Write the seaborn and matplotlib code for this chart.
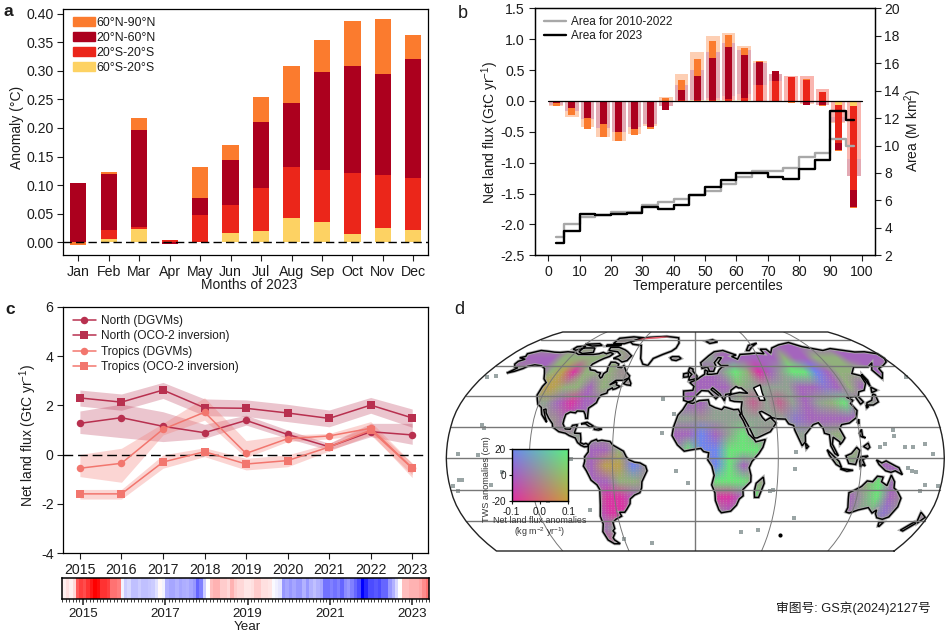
import numpy as np
import matplotlib
matplotlib.use("Agg")
import matplotlib.pyplot as plt
from matplotlib.patches import Patch, PathPatch, Polygon
from matplotlib.path import Path
import seaborn as sns

W, H = 952, 635
INK = "#1c1c1c"
sns.set_theme(style="ticks")
plt.rcParams["font.family"] = ["Liberation Sans", "Noto Sans CJK SC", "DejaVu Sans"]
plt.rcParams.update({
    "axes.unicode_minus": False, "mathtext.fontset": "custom", "mathtext.rm": "Liberation Sans",
    "mathtext.default": "regular", "text.color": INK, "axes.labelcolor": INK,
    "xtick.color": INK, "ytick.color": INK, "axes.edgecolor": "black", "axes.linewidth": 0.9,
})

ORANGE, DARK, RED, YELLOW = "#FB7B2E", "#AC001E", "#EB261A", "#FDD263"
PALE_ORANGE, PALE_DARK, PALE_RED, PALE_YELLOW = "#FDCFB4", "#E3A9B3", "#F9B5AF", "#FDEDC2"

# ── Panel a: cumulative tops of the stacks ────────────────────────────────────
months = ["Jan", "Feb", "Mar", "Apr", "May", "Jun", "Jul", "Aug", "Sep", "Oct", "Nov", "Dec"]
a_yellow = [0, .006, .023, 0, 0, .016, .020, .043, .036, .015, .025, .022]
a_red = [0, .022, .027, .004, .048, .065, .095, .132, .127, .121, .118, .113]
a_dark = [.104, .120, .197, -.003, .078, .144, .211, .244, .298, .309, .295, .321]
a_orange = [-.004, .123, .218, 0, .132, .170, .254, .309, .354, .387, .391, .363]

# ── Panel b: bins, bars (cumulative edges) and area steps ─────────────────────
bins = [2.5, 7.5, 12.5, 17.5, 22.5, 27.5, 32.5, 37.5, 42.5, 47.5,
        52.5, 57.5, 62.5, 67.5, 72.5, 77.5, 82.5, 87.5, 92.5, 97.5]
in_pos_orange = [0, 0, 0, 0, 0, 0, 0, .055, .345, .685, .975, 1.06, .86, .645, .485, .395, .355, .15, 0, 0]
in_pos_dark = [0, 0, 0, 0, 0, 0, 0, 0, .185, .41, .69, .88, .75, .635, .485, 0, 0, 0, 0, 0]
in_pos_red = [0, 0, 0, 0, 0, 0, 0, 0, .01, .015, .02, .03, .055, .25, .33, .39, .345, .14, 0, 0]
in_neg_orange = [-.085, -.23, -.46, -.59, -.65, -.555, -.46, -.155, 0, 0, 0, 0, 0, -.015, -.015, -.03, -.07, -.085, -.81, -1.735]
in_neg_dark = [-.03, -.11, -.27, -.38, -.50, -.45, -.43, -.14, 0, 0, 0, 0, 0, 0, 0, -.025, -.06, -.07, -.80, -1.725]
in_neg_red = [0, 0, 0, 0, 0, 0, 0, 0, 0, 0, 0, 0, 0, 0, 0, 0, 0, 0, -.68, -1.45]
in_neg_yellow = [0, 0, 0, 0, 0, 0, 0, 0, 0, 0, 0, 0, 0, 0, 0, 0, 0, 0, -.065, -.09]
out_pos_orange = [0, 0, 0, 0, 0, 0, 0, .07, .44, .80, 1.05, 1.10, .89, .645, .44, .41, .41, .20, 0, 0]
out_pos_dark = [0, 0, 0, 0, 0, 0, 0, 0, .26, .50, .79, .93, .83, .62, .44, 0, 0, 0, 0, 0]
out_pos_red = [0, 0, 0, 0, 0, 0, 0, 0, .01, .02, .05, .08, .11, .25, .33, .40, .40, .19, 0, 0]
out_pos_yellow = [0, 0, 0, 0, 0, 0, 0, 0, 0, .01, .02, .02, .02, 0, 0, 0, 0, 0, 0, 0]
out_neg_orange = [-.09, -.265, -.43, -.59, -.65, -.53, -.40, -.09, 0, 0, 0, 0, 0, -.01, -.01, -.02, -.05, -.06, -.35, -1.22]
out_neg_dark = [-.06, -.17, -.29, -.44, -.51, -.43, -.37, -.09, 0, 0, 0, 0, 0, 0, 0, -.02, -.04, -.06, -.345, -1.22]
out_neg_red = [0, 0, 0, 0, 0, 0, 0, 0, 0, 0, 0, 0, 0, 0, 0, 0, 0, 0, -.26, -.94]
out_neg_yellow = [0, 0, 0, 0, 0, 0, 0, 0, 0, 0, 0, 0, 0, 0, 0, 0, 0, 0, -.02, -.02]
area_2023 = [2.9, 3.8, 5.03, 4.95, 5.03, 5.1, 5.55, 5.37, 5.7, 6.4, 7.0, 7.5, 8.0, 8.0, 7.73, 7.55, 8.3, 8.97, 12.55, 11.85]
area_hist = [3.33, 4.3, 4.77, 4.95, 5.18, 5.18, 5.66, 5.9, 6.13, 6.4, 6.7, 7.2, 7.73, 8.17, 8.17, 8.38, 9.18, 9.48, 10.45, 9.96]

# ── Panel c ───────────────────────────────────────────────────────────────────
years = [2015, 2016, 2017, 2018, 2019, 2020, 2021, 2022, 2023]
north_dgvm = [1.27, 1.5, 1.15, .89, 1.39, .82, .32, .93, .80]
north_dgvm_hi = [1.77, 2.05, 1.74, 1.23, 1.6, 1.0, .46, 1.27, 1.27]
north_dgvm_lo = [.86, .69, .53, .66, 1.2, .66, .19, .73, .42]
north_oco = [2.3, 2.13, 2.62, 1.9, 1.88, 1.69, 1.47, 2.01, 1.49]
north_oco_hi = [2.62, 2.46, 2.93, 2.26, 2.22, 2.04, 1.81, 2.32, 1.85]
north_oco_lo = [1.97, 1.8, 2.28, 1.58, 1.55, 1.34, 1.13, 1.68, 1.11]
trop_dgvm = [-.55, -.35, 1.03, 1.72, .05, .65, .76, 1.07, -.54]
trop_dgvm_hi = [.01, .26, 1.27, 2.31, .57, .8, .86, 1.34, -.35]
trop_dgvm_lo = [-.89, -1.12, .8, 1.4, -.12, .53, .64, .86, -.93]
trop_oco = [-1.59, -1.59, -.3, .12, -.38, -.24, .31, 1.0, -.55]
trop_oco_hi = [-1.41, -1.41, -.01, .28, -.15, -.01, .46, 1.18, -.35]
trop_oco_lo = [-1.8, -1.8, -.55, -.08, -.62, -.49, .15, .8, -.82]

# monthly index behind the colour strip, mid 2014 to spring 2023
strip_values = [
    .06, .12, .06, .15, .65, .75, .7, .8, .9, 1.0, .95, .8, .8, .75, .55, .55, .5, -.05,
    -.2, -.15, -.25, -.25, -.2, -.25, -.25, -.22, -.2, -.12, .03, -.05,
    -.3, -.35, -.35, -.3, -.35, -.32, -.3, -.35, -.4, -.6, -.5, -.2, 0,
    .25, .3, .3, .2, .2, .15, .3, .2, .15, .15,
    .1, .1, .12, .2, .2, .12, .12, .1, -.02, -.06, -.1,
    -.4, -.35, -.4, -.35, -.4, -.4, -.3, -.4, -.3, -.25, -.3, -.35,
    -.55, -.55, -.5, -.55, -.5, -.6, -.45, -.4, -.5, -.6, -.7, -1.0, -.85,
    -.7, -.7, -.65, -.7, -.6, -.6, -.4, -.3, -.15, 0, .25, .25, .3, .3, .3, .35, .45, .55]
strip_ticks = [6, 30, 54, 78, 102]
strip_labels = ["2015", "2017", "2019", "2021", "2023"]

# ── Panel d: Robinson table, coastlines (lon, lat) and anomaly classes ────────
rob_lat = [0, 5, 10, 15, 20, 25, 30, 35, 40, 45, 50, 55, 60, 65, 70, 75, 80, 85, 90]
rob_len = [1, .9986, .9954, .99, .9822, .973, .96, .9427, .9216, .8962, .8679, .835, .7986, .7597, .7186, .6732, .6213, .5722, .5322]
rob_y = [0, .062, .124, .186, .248, .310, .372, .434, .4958, .5571, .6176, .6769, .7346, .7903, .8435, .8936, .9394, .9761, 1]

n_america = [(-168, 65.5), (-164, 66.5), (-166, 68.5), (-157, 71), (-150, 70.5), (-141, 69.7), (-135, 69.5), (-128, 70), (-120, 69.5), (-115, 68), (-108, 68), (-100, 68), (-95, 68.5), (-92, 69.5), (-88, 68.5), (-85, 69.5), (-81, 68.5), (-83, 66.5), (-87, 65), (-90, 63.5), (-94, 61), (-94.5, 58.8), (-92.5, 57), (-88, 56.5), (-85, 55.3), (-82, 55), (-82, 53), (-80, 51.5), (-79, 52), (-79, 54.5), (-77, 56), (-78, 58.5), (-78, 60.5), (-78, 62.4), (-74, 62.3), (-70, 61), (-69.5, 58.8), (-66, 58.5), (-64.5, 60), (-62, 57.5), (-60, 55.5), (-56, 53), (-56, 51.5), (-60, 50), (-66, 50), (-70, 47), (-65, 49), (-64.5, 47), (-61, 46), (-64, 44.5), (-66, 44), (-67, 45), (-70, 43.5), (-70, 41.7), (-74, 40.5), (-75.5, 38), (-76, 35.5), (-78, 34), (-81, 32), (-80.5, 28), (-80.2, 25.5), (-81.5, 25.5), (-82.5, 28), (-84, 30), (-89, 30.2), (-90, 29), (-94, 29.5), (-97, 28), (-97.5, 25), (-97.8, 22), (-95.5, 18.7), (-92, 18.5), (-90.5, 21), (-87, 21.5), (-88, 18), (-88.5, 16), (-84, 15.8), (-83.3, 12), (-83.5, 10), (-81, 9), (-79.5, 9.5), (-77.5, 8.7), (-78, 7.5), (-80.5, 7.3), (-83, 8.3), (-85.5, 10), (-87.5, 13), (-92, 14.5), (-95, 16), (-100, 17), (-105, 20), (-105.5, 22), (-109, 25.5), (-112, 29), (-113, 31.5), (-114.5, 31), (-112, 26.5), (-110, 23), (-112, 25), (-115, 28), (-117, 32.5), (-120.5, 34.5), (-122.5, 37.5), (-124.3, 40.3), (-124, 46), (-123, 48.5), (-127, 51), (-130, 54.5), (-134, 58), (-139, 59.8), (-146, 60.5), (-151, 59.5), (-153, 58), (-158, 56), (-163, 54.8), (-158.5, 58.5), (-162, 59), (-165, 61), (-165, 63), (-161, 64.5)]
s_america = [(-77.5, 8.7), (-75.5, 10.8), (-72, 12), (-71, 11), (-68, 11.5), (-62, 10.7), (-60, 8.5), (-55, 6), (-52, 4.5), (-50, 1), (-48, -1), (-44, -2.5), (-40, -3), (-36, -5), (-35, -8), (-37, -11.5), (-39, -15), (-39.5, -19), (-41, -22), (-45, -23.5), (-48.5, -26), (-49, -29), (-52, -32.5), (-54, -34.5), (-58, -34.5), (-57, -37), (-62, -39), (-65, -41), (-65, -45), (-67, -46.5), (-66, -48), (-69, -51), (-68.5, -52.5), (-65, -55), (-70, -55), (-74, -52.5), (-75.5, -47), (-73, -42), (-73.5, -37), (-71.5, -30), (-70.3, -20), (-72, -17), (-76, -14), (-79, -8), (-81, -5), (-80, -2), (-80, 1), (-77.5, 4), (-77.5, 7)]
africa = [(-6, 35.8), (-2, 35), (3, 36.8), (10, 37.3), (11, 34), (15, 32.3), (20, 31), (22, 32.8), (29, 31), (32.5, 31.2), (34.3, 28), (33, 28), (35.5, 24), (37.3, 20), (39, 15.5), (43, 12), (44, 10.5), (51, 12), (49, 7), (46, 3), (41, -2), (39, -6), (40.5, -11), (40.5, -15), (35, -20), (35.5, -24), (32.8, -26), (31, -30), (27, -33.8), (20, -34.8), (18, -33), (15, -27), (14.5, -22), (12, -17), (13.7, -11), (12, -5), (9, -1), (9.7, 3.5), (6, 4.3), (4, 6.3), (-4, 5.2), (-8, 4.5), (-13, 8.5), (-17, 14.5), (-16, 20), (-13, 27.5), (-9.5, 31)]
eurasia = [(-9, 37), (-9.3, 43), (-2, 43.4), (-1, 46), (-4.5, 48.5), (1.5, 50.5), (4, 52), (8, 54), (8.5, 57), (11, 56), (10, 54), (14, 54), (19, 54.5), (21, 57), (24, 59), (30, 60), (23, 60), (21, 62), (25, 65.5), (22, 65.7), (17.5, 62), (18.5, 60), (16, 56), (12.5, 56), (11, 59), (6, 58), (5, 62), (13, 67), (19, 70), (28, 71), (40, 67.5), (35, 66.5), (40, 64.5), (44, 68), (54, 68.5), (60, 69), (68, 68.5), (67, 72), (73, 72), (75, 69), (80, 73), (90, 75.5), (104, 77.5), (113, 74), (130, 71), (140, 72.5), (160, 69.8), (170, 70), (180, 68.5), (180, 65), (177, 62.5), (170, 60), (163, 58), (162, 55), (157, 51), (155.5, 57), (163, 62), (155, 59), (142, 59), (135, 54.5), (141, 53), (140, 48), (135, 43.5), (130, 42.5), (127.5, 39.5), (129.5, 36), (126.5, 34.5), (125, 39.5), (121, 39), (118, 39), (122, 37), (119, 35), (122, 30.5), (120, 26), (114, 22.5), (108, 21.5), (106, 19), (109, 13), (107, 10.5), (105, 8.7), (105, 10.5), (100.5, 13.5), (99.5, 9), (103.5, 1.5), (101, 3), (98.3, 8), (98, 15), (94.5, 16), (94, 19), (91, 22.7), (87, 21.5), (80.3, 15), (80, 10.5), (77.5, 8), (73, 18), (72.5, 21), (69, 22), (67, 25), (61, 25.2), (57, 26), (56, 27), (50, 30), (48, 29.5), (50, 26), (52, 24), (56, 26), (59.7, 22.5), (55, 17), (45, 13), (43, 13), (39, 21), (35, 28), (34.8, 31.5), (36, 36), (30, 36.3), (27, 37), (26.5, 40), (29, 41), (35, 42), (41.5, 41.5), (37, 45), (35, 45), (33, 46), (28.5, 43.5), (28, 41.3), (24, 40.8), (23, 38), (22.5, 36.6), (19.5, 41), (14, 45), (12.5, 44), (18.5, 40), (16, 38), (10.5, 43), (5, 43.3), (0, 39.5), (-2, 36.8), (-5.5, 36)]
australia = [(113.5, -22), (114, -26), (115.5, -31.5), (115, -34.3), (118, -35), (124, -33), (131, -31.5), (135.5, -35), (138, -33), (138.5, -35.5), (141, -38), (146, -39), (150, -37.5), (153, -31), (153, -25.5), (149, -21), (146, -19), (145.5, -15), (142.5, -10.8), (141.5, -14), (140.5, -17.5), (136, -15), (136.8, -12), (132.5, -11.5), (129.5, -15), (125.5, -14.5), (122, -18), (117, -20.5)]
islands = [
    [(-80, 73.5), (-72, 71.5), (-68, 70), (-62, 67), (-64, 63.5), (-68, 62.5), (-73, 64.5), (-78, 65), (-73, 67.5), (-78, 70), (-88, 71), (-89, 73.5)],
    [(-117, 73), (-105, 73), (-102, 69.5), (-112, 68.7), (-117, 70)],
    [(-90, 76.5), (-78, 76.5), (-72, 78.5), (-62, 82), (-75, 83), (-90, 81.5)],
    [(-125, 74), (-117, 74.5), (-116, 73), (-122, 71.2), (-126, 72)],
    [(-95, 75.5), (-80, 75.7), (-82, 74.5), (-95, 74.5)],
    [(-120, 76), (-105, 76.5), (-100, 75), (-110, 74.5)],
    [(-59, 47.8), (-56, 51.5), (-53, 48), (-53, 46.7), (-56, 47)],
    [(-84.5, 22), (-80, 23), (-75, 20.5), (-77.5, 19.9), (-81, 22)],
    [(-74, 19.8), (-68.5, 18.6), (-71, 18), (-74.3, 18.4)],
    [(49.5, -12), (50.4, -16), (47, -25), (44, -25), (43.5, -21), (44.5, -16)],
    [(-5.5, 50), (1.3, 51.2), (1.5, 52.8), (-2, 56), (-2, 57.5), (-5, 58.6), (-6, 56), (-3, 54), (-5, 52)],
    [(-10, 52), (-6, 52.3), (-6, 55), (-10, 54.3)],
    [(131, 34), (136, 34), (141, 36), (141.5, 40.5), (140, 41), (136.5, 37), (132, 35.5)],
    [(140, 42), (145.3, 43.5), (142, 45.5)],
    [(130, 32), (131.8, 33), (130.5, 34)],
    [(142, 46), (143.5, 50), (143, 54), (142, 53)],
    [(120, 23), (121.5, 25), (121, 22)],
    [(120, 16), (122, 18.5), (122, 14), (124, 13), (120.5, 14)],
    [(122, 7.5), (125.5, 9.7), (126.5, 7), (125, 5.8)],
    [(95.5, 5.5), (104, -2), (106, -6), (102, -4), (97, 2)],
    [(105.5, -6.5), (114.5, -7.7), (110, -8.3), (105.5, -7)],
    [(109, 1.5), (113, 3), (117, 7), (119, 5), (117.8, 1), (116, -4), (111, -3.3)],
    [(119.5, -5.5), (119, -2), (120, 1), (125, 1.5), (121, -1), (123, -5), (121, -4)],
    [(131, -1), (135, -3), (138, -1.7), (145, -5), (147.5, -6), (150.5, -10.5), (145, -8), (142, -9), (138, -8), (133, -4)],
    [(144.7, -40.8), (148.3, -40.8), (147, -43.5), (146, -43.5)],
    [(172.8, -34.5), (178.4, -37.7), (175.5, -41.5), (174, -39.5)],
    [(172.7, -40.6), (174.3, -41.7), (169, -46.6), (166.5, -46)],
    [(80, 9.7), (82, 7.5), (80.5, 6)],
    [(52, 71), (57, 75), (68, 77), (60, 74), (55, 71)],
    [(12, 78.5), (20, 80), (25, 78), (16, 76.7)],
]
iceland = [(-24, 65.5), (-22, 66.4), (-16, 66.4), (-13.5, 65), (-18, 63.5), (-22, 64)]
greenland = [(-73, 78), (-66, 81), (-55, 82.5), (-35, 83.5), (-20, 82), (-18, 77), (-20, 73), (-24, 70.5), (-32, 68), (-40, 65), (-43, 60), (-48, 61), (-52, 65), (-54, 69), (-58, 75), (-68, 76)]
greenland_red = [(-68, 80), (-60, 82), (-40, 83.4), (-30, 83), (-45, 81.3), (-60, 80.3)]
caspian = [(47, 45), (53, 47), (53, 42), (54, 37), (50, 37), (49, 40)]
small_isles = [(-155.5, 19.5), (-157, 21), (-172, -14), (-170, -14), (-178, -18), (178, -18), (168, -17), (166, -21),
               (160, -9), (157, -8), (154, -6), (-150, -17), (-140, -9), (-157, 2), (-172, 3), (145, 14), (145, 18),
               (134, 7), (138, 9), (152, 7), (158, 7), (167, 9), (172, 3), (-60, -51.7), (-37, -54.3), (51, -46),
               (37, -47), (77, -38), (55, -21), (57, -20), (-25, 38), (-16, 28), (-24, 16), (-5.7, -16), (-14, -8),
               (-90, -.5), (-110, -27), (-80, -33), (-175, -21), (-176, 52), (-170, 53), (178, 52), (73, 4), (72, -7)]
black_isle = [(70, -49)]

# one letter per 10 degree cell: rows 85N to 55S, columns 175W to 175E
anomaly_rows = [
    "...... ...... ...... ...... ...... ......",
    "...... ...... ...... ...PPP PPPPPP PPPPPP",
    "PPPPPL LLLLL. ...... TTPPPP PPLPPL LLPPPP",
    "...PPL OMLLL. ...... PPTGLM PTGGBP LLLPP.",
    "....TO OLLPLT .....P PPPLTT TTPPVP LPP...",
    ".....T TPMPP. ....PP PTTTRT RTPTLG PT....",
    "...... ..PPT. ....TT .TTTTT TVPPPP P.....",
    "...... ...TT. ....PP BPTGT. .TTTLT ......",
    "...... ....PP LP..PG BBGGG. ..T.TL ......",
    "...... ....PO OB.... .BGP.. ..TLLT PPP...",
    "...... ....PP LL.... .GGGL. ...... LGP...",
    "...... .....M MP.... .MMPG. .....P TGP...",
    "...... ....PM M..... .TP... .....P TTV...",
    "...... ....PT ...... ...... ...... ....PP",
    "...... ....RR ...... ...... ...... ......",
]
class_flux = {".": 0, "T": .015, "P": -.08, "V": -.08, "B": -.1, "G": .1, "L": .05, "O": .08, "M": -.1, "R": -.04}
class_tws = {".": 0, "T": 4, "P": 0, "V": 8, "B": 20, "G": 15, "L": 2, "O": -14, "M": -18, "R": -12}
corner_tl, corner_tr = (110, 134, 240), (92, 240, 128)
corner_bl, corner_br = (224, 48, 160), (200, 160, 60)


def mix(flux, tws):
    u = np.clip((np.asarray(flux) + .1) / .2, 0, 1)[..., None]
    v = np.clip((np.asarray(tws) + 20) / 40, 0, 1)[..., None]
    top = (1 - u) * np.array(corner_tl) + u * np.array(corner_tr)
    bottom = (1 - u) * np.array(corner_bl) + u * np.array(corner_br)
    return (v * top + (1 - v) * bottom) / 255


def project(points):
    pts = np.asarray(points, dtype=float)
    lat = np.abs(pts[:, 1])
    x = np.interp(lat, rob_lat, rob_len) * pts[:, 0] / 180
    y = np.sign(pts[:, 1]) * np.interp(lat, rob_lat, rob_y)
    return np.column_stack([x, y])


def px_axes(left, top, right, bottom):
    return fig.add_axes([left / W, 1 - bottom / H, (right - left) / W, (bottom - top) / H])


def label(x, y, s, **kw):
    kw = {"ha": "center", "va": "center", "fontsize": 10, **kw}
    fig.text(x / W, 1 - y / H, s, **kw)


def bars(ax, values, color, width=.87, **kw):
    sns.barplot(x=bins, y=values, native_scale=True, color=color, width=width, saturation=1,
                errorbar=None, linewidth=0, ax=ax, **kw)


fig = plt.figure(figsize=(W / 100, H / 100), dpi=100)

# ═══ Panel a ═════════════════════════════════════════════════════════════════
ax = px_axes(63.3, 8.5, 428, 255)
for vals, col in [(a_orange, ORANGE), (a_dark, DARK), (a_red, RED), (a_yellow, YELLOW)]:
    sns.barplot(x=months, y=vals, color=col, width=.53, saturation=1, errorbar=None, linewidth=0, ax=ax)
ax.axhline(0, color="black", lw=1, dashes=(6, 3), zorder=5)
ax.set_xlim(-.49, 11.48)
ax.set_ylim(-.0222, .409)
ax.set_yticks(np.arange(0, .41, .05))
ax.set_yticklabels([f"{v:.2f}" for v in np.arange(0, .41, .05)])
ax.set_xlabel("")
ax.tick_params(labelsize=10.2, length=4, width=.8, pad=3)
handles = [Patch(color=c) for c in (ORANGE, DARK, RED, YELLOW)]
ax.legend(handles, ["60°N-90°N", "20°N-60°N", "20°S-20°S", "60°S-20°S"], loc="upper left",
          bbox_to_anchor=(.004, 1.0), frameon=False, fontsize=8.9, handlelength=1.75, handleheight=.75,
          handletextpad=.12, labelspacing=.24, borderaxespad=.3)
label(17, 127, "Anomaly (°C)", rotation=90)
label(249, 285, "Months of 2023")

# ═══ Panel b ═════════════════════════════════════════════════════════════════
ax = px_axes(534.7, 8.3, 875.3, 255.3)
for vals, col in [(out_pos_orange, PALE_ORANGE), (out_neg_orange, PALE_ORANGE), (out_pos_dark, PALE_DARK),
                  (out_neg_dark, PALE_DARK), (out_pos_red, PALE_RED), (out_neg_red, PALE_RED),
                  (out_pos_yellow, PALE_YELLOW), (out_neg_yellow, PALE_YELLOW)]:
    bars(ax, vals, col)
for vals, col in [(in_pos_orange, ORANGE), (in_neg_orange, ORANGE), (in_pos_dark, DARK), (in_neg_dark, DARK),
                  (in_pos_red, RED), (in_neg_red, RED), (in_neg_yellow, YELLOW)]:
    bars(ax, vals, col, width=.43)
ax.plot([0, 100], [0, 0], color="black", lw=.9, zorder=5)
ax.set_xlim(-4.35, 104.35)
ax.set_ylim(-2.5, 1.5)
ax.set_xticks(range(0, 101, 10))
ax.set_yticks(np.arange(-2.5, 1.51, .5))
ax.set_yticklabels([f"{v:.1f}" for v in np.arange(-2.5, 1.51, .5)])
ax.set_xlabel("")
ax.tick_params(labelsize=10.2, length=4, width=.8, pad=3)
tw = ax.twinx()
sns.lineplot(x=bins, y=area_hist, color="#A8A8A8", lw=1.7, drawstyle="steps-mid", errorbar=None,
             ax=tw, label="Area for 2010-2022")
sns.lineplot(x=bins, y=area_2023, color="black", lw=1.7, drawstyle="steps-mid", errorbar=None,
             ax=tw, label="Area for 2023")
tw.set_ylim(2, 20)
tw.set_yticks(range(2, 21, 2))
tw.tick_params(labelsize=10, length=4, width=.8, pad=2.5)
tw.legend(loc="upper left", bbox_to_anchor=(.0, 1.005), frameon=False, fontsize=8.5, handlelength=1.9,
          handletextpad=.4, labelspacing=.2, borderaxespad=.35)
label(490.7, 132, "Net land flux (GtC yr$^{-1}$)", rotation=90)
label(913, 130, "Area (M km$^{2}$)", rotation=90)
label(708, 286, "Temperature percentiles")

# ═══ Panel c ═════════════════════════════════════════════════════════════════
ax = px_axes(63.3, 306.7, 428, 553.3)
C_NORTH, C_TROP = "#B8304F", "#F2766E"
for lo, hi, col, alpha in [(north_dgvm_lo, north_dgvm_hi, C_NORTH, .28), (north_oco_lo, north_oco_hi, C_NORTH, .28),
                           (trop_dgvm_lo, trop_dgvm_hi, C_TROP, .3), (trop_oco_lo, trop_oco_hi, C_TROP, .3)]:
    ax.fill_between(years, lo, hi, color=col, alpha=alpha, lw=0)
ax.axhline(0, color="black", lw=1, dashes=(7, 3.5), zorder=1.5)
for vals, col, mk, name in [(north_dgvm, C_NORTH, "o", "North (DGVMs)"),
                            (north_oco, C_NORTH, "s", "North (OCO-2 inversion)"),
                            (trop_dgvm, C_TROP, "o", "Tropics (DGVMs)"),
                            (trop_oco, C_TROP, "s", "Tropics (OCO-2 inversion)")]:
    sns.lineplot(x=years, y=vals, color=col, marker=mk, markersize=5.4, markeredgewidth=0, lw=1.1,
                 errorbar=None, ax=ax, label=name)
ax.set_xlim(2014.6, 2023.38)
ax.set_ylim(-4, 6)
ax.set_xticks(years)
ax.set_yticks(range(-4, 7, 2))
ax.tick_params(labelsize=10.2, length=4, width=.8, pad=3)
ax.legend(loc="upper left", bbox_to_anchor=(.004, 1.0), frameon=False, fontsize=8.6, handlelength=1.9,
          handletextpad=.4, labelspacing=.28, borderaxespad=.3)
label(28, 435, "Net land flux (GtC yr$^{-1}$)", rotation=90)

st = px_axes(62.3, 577.7, 429.3, 599.3)
sns.heatmap([strip_values], cmap="bwr", vmin=-1, vmax=1, cbar=False, ax=st, xticklabels=False, yticklabels=False)
for sp in st.spines.values():
    sp.set_visible(True)
    sp.set_linewidth(1.1)
st.set_xticks(strip_ticks)
st.set_xticklabels(strip_labels)
st.set_xticks(range(0, 108), minor=True)
st.tick_params(axis="x", which="major", labelsize=9.6, length=4, width=1.1, pad=2, rotation=0)
st.tick_params(axis="x", which="minor", length=2, width=.6)
st.tick_params(axis="y", length=0)
label(247, 627, "Year", fontsize=9.6)

# ═══ Panel d ═════════════════════════════════════════════════════════════════
m = px_axes(446.3, 332, 944.3, 551)
m.set_axis_off()
bottom_y = -rob_y[12]
land_parts = [n_america, s_america, africa, eurasia, australia, iceland] + islands
land_path = Path.make_compound_path(*[Path(np.vstack([project(p), project(p)[:1]]), closed=True) for p in land_parts])

rows = [r.replace(" ", "") for r in anomaly_rows]
flux_grid = np.array([[class_flux[c] for c in r] for r in rows], dtype=float)
tws_grid = np.array([[class_tws[c] for c in r] for r in rows], dtype=float)
gx, gy = np.meshgrid(np.linspace(-1, 1, 800), np.linspace(1, bottom_y, 350))
abs_lat = np.interp(np.abs(gy), rob_y, rob_lat)
lat_px = np.sign(gy) * abs_lat
lon_px = np.clip(gx / np.interp(abs_lat, rob_lat, rob_len) * 180, -180, 180)
r = np.clip((85 - lat_px) / 10, 0, 13.999)
c = np.clip((lon_px + 175) / 10, 0, 34.999)
r0, c0 = r.astype(int), c.astype(int)
fr, fc = r - r0, c - c0


def sample(g):
    return ((1 - fr) * (1 - fc) * g[r0, c0] + (1 - fr) * fc * g[r0, c0 + 1]
            + fr * (1 - fc) * g[r0 + 1, c0] + fr * fc * g[r0 + 1, c0 + 1])


im = m.imshow(mix(sample(flux_grid), sample(tws_grid)), extent=[-1, 1, bottom_y, 1], aspect="auto",
              interpolation="bilinear", zorder=1)
m.set_xlim(-1, 1)
m.set_ylim(bottom_y, 1)
clip = PathPatch(land_path, transform=m.transData, fc="none", ec="none")
m.add_patch(clip)
im.set_clip_path(clip)

# stippling over the land below 55N
dx, dy = np.meshgrid(np.arange(-1, 1, .0125), np.arange(bottom_y, rob_y[11], .0185))
dots = m.scatter(dx.ravel(), dy.ravel(), s=1.0, color="#C8A8B0", alpha=.3, lw=0, zorder=2)
dots.set_clip_path(clip)

for part in land_parts + [greenland]:
    xy = project(part)
    m.add_patch(Polygon(xy, closed=True, fc="none", ec="#ABABAB", lw=2.2, zorder=3))
    m.add_patch(Polygon(xy, closed=True, fc="none", ec="black", lw=1.05, zorder=4))
m.add_patch(Polygon(project(greenland_red), closed=True, fc="#EC5C6C", ec="none", zorder=4))
m.add_patch(Polygon(project(caspian), closed=True, fc="white", ec="black", lw=1.05, zorder=4))
isles = project(small_isles)
sns.scatterplot(x=isles[:, 0], y=isles[:, 1], color="#9AA5A5", s=5, marker="s", lw=0, ax=m, zorder=4, clip_on=False)
isle = project(black_isle)
sns.scatterplot(x=isle[:, 0], y=isle[:, 1], color="black", s=9, lw=0, ax=m, zorder=4)

grid_col = "#777777"
for lat in range(-40, 81, 20):
    half = np.interp(abs(lat), rob_lat, rob_len)
    yy = np.sign(lat) * np.interp(abs(lat), rob_lat, rob_y)
    m.plot([-half, half], [yy, yy], color=grid_col, lw=1, zorder=5)
lat_line = np.arange(-60, 90.5, 2.5)
for lon in (-120, -60, 0, 60, 120):
    xy = project(np.column_stack([np.full(lat_line.size, lon), lat_line]))
    m.plot(xy[:, 0], xy[:, 1], color=grid_col, lw=1 if lon == 0 else .7, zorder=5)
edge = project(np.vstack([np.column_stack([np.full(lat_line.size, 180), lat_line]),
                          np.column_stack([np.full(lat_line.size, -180), lat_line[::-1]]),
                          [[180, -60]]]))
m.plot(edge[:, 0], edge[:, 1], color="#222222", lw=1, zorder=6, clip_on=False)

inset = px_axes(511.7, 449.3, 568.3, 501.3)
uu, vv = np.meshgrid(np.linspace(-.1, .1, 60), np.linspace(20, -20, 60))
inset.imshow(mix(uu, vv), extent=[-.1, .1, -20, 20], aspect="auto", interpolation="bilinear")
inset.set_xticks([-.1, 0, .1])
inset.set_xticklabels(["-0.1", "0.0", "0.1"])
inset.set_yticks([-20, 0, 20])
inset.tick_params(labelsize=7.2, length=2.5, width=.8, pad=1.5)
for sp in inset.spines.values():
    sp.set_linewidth(1)
label(486.7, 479, "TWS anomalies (cm)", rotation=90, fontsize=6.6, color="#333333")
label(540, 520.7, "Net land flux anomalies", fontsize=6.4, color="#333333")
label(540, 532, "(kg m$^{-2}$ yr$^{-1}$)", fontsize=6.4, color="#333333")

label(853, 608, "审图号: GS京(2024)2127号", fontsize=9.2)
label(8, 12, "a", fontsize=12.5, fontweight="bold")
label(463, 13, "b", fontsize=13)
label(10, 310, "c", fontsize=12.5, fontweight="bold")
label(459, 309, "d", fontsize=13)

fig.savefig("out.png", dpi=100)
